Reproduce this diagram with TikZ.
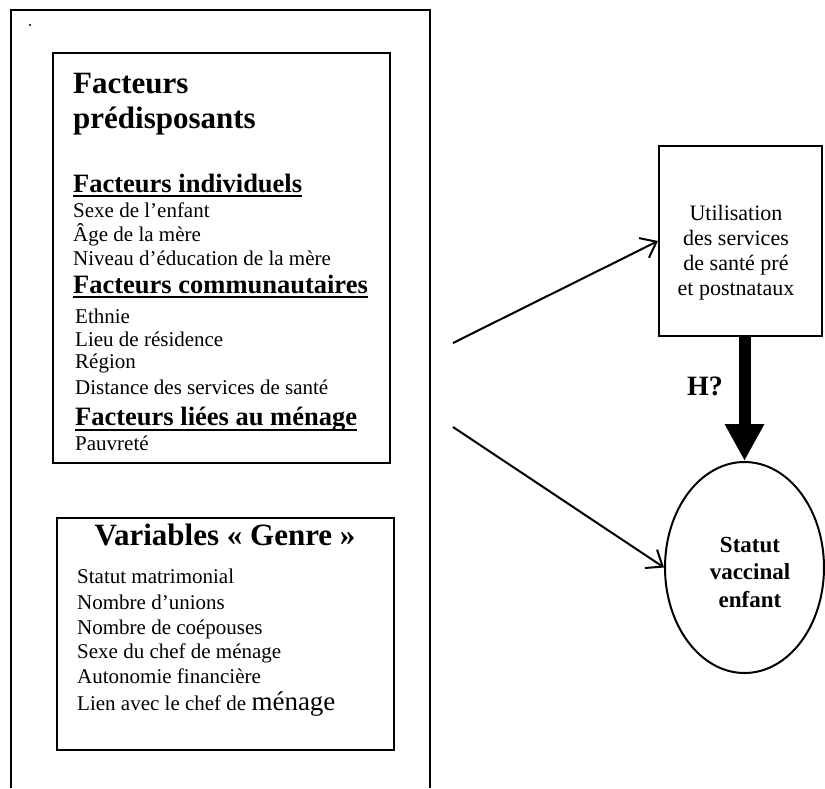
\documentclass[tikz,border=0pt]{standalone}
\usepackage{fontspec}
\setmainfont{Liberation Serif}
\usetikzlibrary{arrows.meta,shapes.geometric}
\tikzset{
  frame/.style={draw, line width=2pt, inner sep=0pt},
  txt/.style={inner sep=0pt, anchor=base west, font=\fontsize{21}{24}\selectfont},
  headtxt/.style={inner sep=0pt, anchor=base west, font=\fontsize{26.5}{30}\selectfont\bfseries},
  titletxt/.style={inner sep=0pt, anchor=base west, font=\fontsize{31}{35}\selectfont\bfseries},
  uline/.style={line width=2.5pt},
  thinarrow/.style={line width=2pt, -{Straight Barb[length=14pt,width=22pt,line width=2pt]}},
}
\begin{document}
\begin{tikzpicture}[x=1pt,y=-1pt]
\useasboundingbox (0,0) rectangle (825,788);
% outer frame (open at bottom)
\draw[line width=2pt] (11,788) -- (11,10) -- (430,10) -- (430,788);
\fill (30,25) circle (1.2);
% box 1
\node[frame, anchor=north west, minimum width=337pt, minimum height=410pt] (pred) at (52,52) {};
\node[titletxt] (t1) at (73,93) {Facteurs};
\node[titletxt] (t2) at (73,128) {prédisposants};
\node[headtxt] (h1) at (73,192) {Facteurs individuels};
\draw[uline] ([yshift=-4]h1.base west) -- ([yshift=-4]h1.base east);
\node[txt] (a1) at (73,217) {Sexe de l’enfant};
\node[txt] (a2) at (73,241) {Âge de la mère};
\node[txt] (a3) at (73,265) {Niveau d’éducation de la mère};
\node[headtxt] (h2) at (73,293) {Facteurs communautaires};
\draw[uline] ([yshift=-4]h2.base west) -- ([yshift=-4]h2.base east);
\node[txt] (b1) at (75,323) {Ethnie};
\node[txt] (b2) at (75,346) {Lieu de résidence};
\node[txt] (b3) at (75,368) {Région};
\node[txt] (b4) at (75,394) {Distance des services de santé};
\node[headtxt] (h3) at (75,425) {Facteurs liées au ménage};
\draw[uline] ([yshift=-5]h3.base west) -- ([yshift=-5]h3.base east);
\node[txt] (c1) at (75,450) {Pauvreté};
% box 2
\node[frame, anchor=north west, minimum width=337pt, minimum height=232pt] (genre) at (56,517) {};
\node[inner sep=0pt, anchor=base, font=\fontsize{31}{34}\selectfont\bfseries] (gt) at (225,545) {Variables «~Genre~»};
\node[txt] (g1) at (77,583) {Statut matrimonial};
\node[txt] (g2) at (77,609) {Nombre d’unions};
\node[txt] (g3) at (77,634) {Nombre de coépouses};
\node[txt] (g4) at (77,658) {Sexe du chef de ménage};
\node[txt] (g5) at (77,683) {Autonomie financière};
\node[txt] (g6) at (77,710) {Lien avec le chef de {\fontsize{27}{27}\selectfont ménage}};
% right side
\node[frame, anchor=north west, minimum width=163pt, minimum height=190pt] (util) at (658,145) {};
\node[inner sep=0pt, align=center, font=\fontsize{22}{25}\selectfont] (utiltxt) at (736,253) {Utilisation\\des services\\de santé pré\\et postnataux};
\node[ellipse, draw, line width=2pt, minimum width=159pt, minimum height=211pt, inner sep=0pt] (stat) at (744.5,567.5) {};
\node[inner sep=0pt, align=center, font=\fontsize{23}{27.5}\selectfont\bfseries] (stattxt) at (750,572) {Statut\\vaccinal\\enfant};
\draw[line width=12pt, -{Triangle[length=37pt,width=37pt]}] (util.south -| stat.north) -- (stat.north);
\node[inner sep=0pt, anchor=base, font=\fontsize{28}{28}\selectfont\bfseries] (hq) at (705,395) {H?};
% arrows
\coordinate (s1) at (453,343);
\coordinate (s2) at (453,427);
\draw[thinarrow] (s1) -- (util.west);
\draw[thinarrow] (s2) -- (stat.west);
\end{tikzpicture}
\end{document}
